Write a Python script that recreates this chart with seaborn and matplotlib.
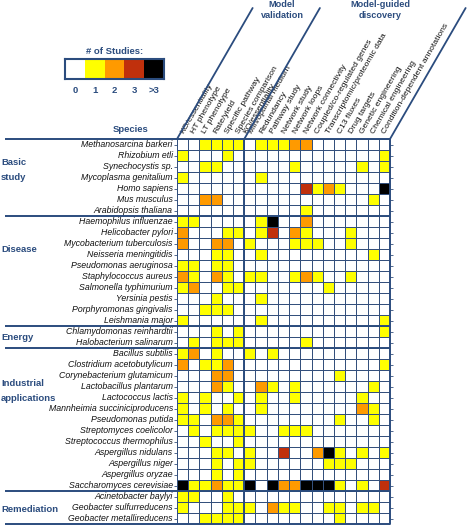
import numpy as np
import pandas as pd
import matplotlib
matplotlib.use("Agg")
import matplotlib.pyplot as plt
from matplotlib.colors import ListedColormap, BoundaryNorm
from matplotlib.lines import Line2D
import seaborn as sns

# Column categories
validation_cols = ["KO/essentiality", "HT phenotype", "LT phenotype", "Rate/yield",
                   "Specific pathway", "Species comparison"]
discovery_cols = ["KO/essentiality", "Min/optimal medium", "Redundancy", "Pathway study",
                  "Network study", "Network loops", "Network connectivity",
                  "Coupled/co-regulated genes", "Transcriptomic/proteomic data",
                  "C13 fluxes", "Drug targets", "Genetic engineering",
                  "Chemical engineering", "Condition-dependent annotations"]

# Species per application group, and number of studies per column
# (0 = none, 1, 2, 3, 4 = more than 3)
basic_species = ["Methanosarcina barkeri", "Rhizobium etli", "Synechocystis sp.",
                 "Mycoplasma genitalium", "Homo sapiens", "Mus musculus",
                 "Arabidopsis thaliana"]
basic_counts = ["001111 011122 0000000",
                "100010 000000 0000001",
                "001100 000010 0000101",
                "100000 010000 0000000",
                "000000 000003 1210004",
                "002200 000000 0000010",
                "000000 000001 0000000"]

disease_species = ["Haemophilus influenzae", "Helicobacter pylori",
                   "Mycobacterium tuberculosis", "Neisseria meningitidis",
                   "Pseudomonas aeruginosa", "Staphylococcus aureus",
                   "Salmonella typhimurium", "Yersinia pestis",
                   "Porphyromonas gingivalis", "Leishmania major"]
disease_counts = ["110000 014002 0000000",
                  "200011 013021 0001000",
                  "200220 100011 1001000",
                  "000110 010000 0000010",
                  "110110 000000 0000000",
                  "210210 110012 1001000",
                  "120011 000000 0100000",
                  "000100 010000 0000000",
                  "001110 000000 0000000",
                  "100000 010000 0000001"]

energy_species = ["Chlamydomonas reinhardtii", "Halobacterium salinarum"]
energy_counts = ["000101 000000 0000001",
                 "010111 000001 0000000"]

industrial_species = ["Bacillus subtilis", "Clostridium acetobutylicum",
                      "Corynebacterium glutamicum", "Lactobacillus plantarum",
                      "Lactococcus lactis", "Mannheimia succiniciproducens",
                      "Pseudomonas putida", "Streptomyces coelicolor",
                      "Streptococcus thermophilus", "Aspergillus nidulans",
                      "Aspergillus niger", "Aspergillus oryzae",
                      "Saccharomyces cerevisiae"]
industrial_counts = ["120100 101000 0000000",
                     "201120 000000 0000001",
                     "000220 000000 0010000",
                     "000210 021010 0000010",
                     "101001 010010 0000100",
                     "101010 010000 0000210",
                     "110221 000000 0010010",
                     "010111 100111 0000000",
                     "001001 000000 0000000",
                     "000110 100300 2410101",
                     "000101 100000 0111000",
                     "000101 000000 0000000",
                     "411211 404224 4410103"]

remediation_species = ["Acinetobacter baylyi", "Geobacter sulfurreducens",
                       "Geobacter metallireducens"]
remediation_counts = ["110010 000000 0000000",
                      "100011 102110 0110110",
                      "001111 000000 0010000"]

group_names = ["Basic\nstudy", "Disease", "Energy", "Industrial\napplications", "Remediation"]
legend_levels = [0, 1, 2, 3, 4]
legend_labels = ["0", "1", "2", "3", ">3"]
level_colors = ["#ffffff", "#ffff00", "#ff9a00", "#c0300c", "#000000"]

blue = "#2b4c7e"
grid_color = "#34507c"

sns.set_theme(style="white")
plt.rcParams["font.family"] = ["Liberation Sans", "DejaVu Sans"]

all_species = (basic_species + disease_species + energy_species
               + industrial_species + remediation_species)
all_counts = (basic_counts + disease_counts + energy_counts
              + industrial_counts + remediation_counts)
counts = np.array([[int(c) for c in row.replace(" ", "")] for row in all_counts])
df = pd.DataFrame(counts, index=all_species)
n_rows, n_cols = counts.shape

W, H = 467, 526
def fx(px):
    return px / W
def fy(py):
    return 1 - py / H

gx0, gx1, gy0, gy1 = 177, 390, 139, 524
fig = plt.figure(figsize=(W / 100, H / 100), dpi=100)
ax = fig.add_axes([fx(gx0), fy(gy1), (gx1 - gx0) / W, (gy1 - gy0) / H])

cmap = ListedColormap(level_colors)
norm = BoundaryNorm(np.arange(-0.5, 5.5, 1), cmap.N)
sns.heatmap(df, ax=ax, cmap=cmap, norm=norm, cbar=False, linewidths=0.7,
            linecolor=grid_color, xticklabels=False, yticklabels=True)

ax.set_xlabel("")
ax.set_ylabel("")
ax.set_yticks(np.arange(n_rows) + 0.5)
ax.set_yticklabels(all_species, fontstyle="italic", fontsize=6.3, color="#111111")
ax.tick_params(axis="y", left=True, right=True, length=2, width=0.6,
               color=grid_color, pad=1)

# column headers along the top, slanted like the dividers
col_labels = validation_cols + discovery_cols
label_pos = [0.45, 1.45, 2.45, 3.45, 4.45, 5.45, 6.05, 6.6] + [c + 0.5 for c in range(7, 19)]
ax.xaxis.tick_top()
ax.set_xticks(label_pos)
ax.set_xticklabels(col_labels, rotation=60, ha="left", va="center",
                   rotation_mode="anchor", fontsize=6.1, color="#111111")
ax.tick_params(axis="x", top=True, bottom=False, length=0, pad=4)

# thick dividers between groups
cell_w = (gx1 - gx0) / n_cols
x_left = (5 - gx0) / cell_w
bounds = np.cumsum([len(basic_species), len(disease_species), len(energy_species),
                    len(industrial_species)])
for r in [0] + list(bounds) + [n_rows]:
    ax.plot([x_left, n_cols], [r, r], color=blue, lw=1.4, clip_on=False,
            solid_capstyle="butt")
for c in [len(validation_cols), n_cols]:
    ax.plot([c, c], [0, n_rows], color=blue, lw=1.4, clip_on=False)

# slanted header dividers
for x0 in [gx0, gx0 + 6 * cell_w, gx1]:
    dx = (gy0 - 8) / np.tan(np.radians(60))
    fig.add_artist(Line2D([fx(x0), fx(x0 + dx)], [fy(gy0), fy(8)],
                          color=blue, lw=1.3))

fig.text(fx(282), fy(10), "Model\nvalidation", ha="center", va="center",
         fontsize=6.6, fontweight="bold", color=blue, linespacing=1.15)
fig.text(fx(380), fy(10), "Model-guided\ndiscovery", ha="center", va="center",
         fontsize=6.6, fontweight="bold", color=blue, linespacing=1.15)

fig.text(fx(131), fy(130), "Species", ha="center", va="center",
         fontsize=6.8, fontweight="bold", color=blue)

group_y = [170, 249, 338, 391, 509]
for name, yy in zip(group_names, group_y):
    fig.text(fx(1), fy(yy), name, ha="left", va="center", fontsize=6.8,
             fontweight="bold", color=blue, linespacing=1.75)

# legend
fig.text(fx(115), fy(51), "# of Studies:", ha="center", va="center",
         fontsize=6.8, fontweight="bold", color=blue)
lax = fig.add_axes([fx(65), fy(79), 99 / W, 20 / H])
sns.heatmap(pd.DataFrame([legend_levels]), ax=lax, cmap=cmap, norm=norm,
            cbar=False, xticklabels=False, yticklabels=False)
for sp in lax.spines.values():
    sp.set_visible(True)
    sp.set_edgecolor(blue)
    sp.set_linewidth(1.5)
lax.set_xticks(np.arange(len(legend_levels)) + 0.5)
lax.set_xticklabels(legend_labels, fontsize=6.8, fontweight="bold", color=blue)
lax.tick_params(axis="x", bottom=True, length=0, pad=5)
lax.set_xlabel("")
lax.set_ylabel("")

fig.savefig("out.png", dpi=100)
